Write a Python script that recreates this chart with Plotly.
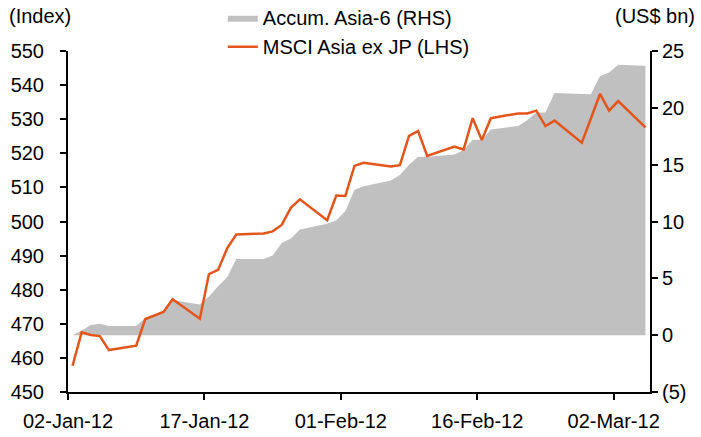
import pandas as pd
import plotly.graph_objects as go

# business days shown in the chart
dates = ["2012-01-02", "2012-01-03", "2012-01-04", "2012-01-05", "2012-01-06",
         "2012-01-09", "2012-01-10", "2012-01-11", "2012-01-12", "2012-01-13",
         "2012-01-16", "2012-01-17", "2012-01-18", "2012-01-19", "2012-01-20",
         "2012-01-23", "2012-01-24", "2012-01-25", "2012-01-26", "2012-01-27",
         "2012-01-30", "2012-01-31", "2012-02-01", "2012-02-02", "2012-02-03",
         "2012-02-06", "2012-02-07", "2012-02-08", "2012-02-09", "2012-02-10",
         "2012-02-13", "2012-02-14", "2012-02-15", "2012-02-16", "2012-02-17",
         "2012-02-20", "2012-02-21", "2012-02-22", "2012-02-23", "2012-02-24",
         "2012-02-27", "2012-02-28", "2012-02-29", "2012-03-01", "2012-03-02",
         "2012-03-05"]

msci_asia_ex_jp = [457.7, 467.5, 466.7, 466.4, 462.3,
                   463.6, 471.4, 472.4, 473.5, 477.2,
                   471.5, 484.6, 485.8, 492.1, 496.2,
                   496.5, 497.1, 499.0, 504.0, 506.5,
                   500.4, 507.6, 507.5, 516.3, 517.2,
                   516.1, 516.5, 525.1, 526.5, 519.2,
                   522.0, 521.1, 530.3, 523.9, 530.3,
                   531.7, 531.7, 532.5, 528.0, 529.6,
                   523.1, 530.2, 537.4, 532.5, 535.3,
                   527.6]

accum_asia6 = [0.0, 0.4, 0.9, 1.0, 0.8,
               0.8, 1.5, 1.8, 2.1, 3.1,
               2.7, 3.4, 4.3, 5.1, 6.7,
               6.7, 7.0, 8.1, 8.5, 9.3,
               9.8, 10.1, 10.9, 12.8, 13.1,
               13.6, 14.1, 15.0, 15.7, 15.7,
               15.9, 16.3, 17.2, 17.2, 18.1,
               18.4, 18.9, 19.6, 19.6, 21.3,
               21.2, 21.2, 22.8, 23.1, 23.8,
               23.7]

rhs_ticks = [-5, 0, 5, 10, 15, 20, 25]
rhs_labels = ["(5)", "0", "5", "10", "15", "20", "25"]

# points sit in the middle of each day (Excel "between tick marks")
x = pd.to_datetime(dates) + pd.Timedelta(hours=12)

font = dict(family="Liberation Sans, Arial, sans-serif", size=20, color="black")

fig = go.Figure()
fig.add_trace(go.Scatter(x=x, y=accum_asia6, name="Accum. Asia-6 (RHS)",
                         mode="lines", fill="tozeroy",
                         line=dict(color="#C0C0C0", width=0),
                         fillcolor="#C0C0C0", yaxis="y"))
fig.add_trace(go.Scatter(x=x, y=msci_asia_ex_jp, name="MSCI Asia ex JP (LHS)",
                         mode="lines", line=dict(color="#E2561B", width=2.5),
                         yaxis="y2"))

axis_common = dict(showgrid=False, zeroline=False, showline=True,
                   linecolor="black", linewidth=2, ticks="outside",
                   ticklen=6, tickwidth=2, tickcolor="black", tickfont=font,
                   automargin=False)

fig.update_layout(
    width=701, height=437,
    margin=dict(l=68, r=51, t=51, b=45, autoexpand=False),
    paper_bgcolor="white", plot_bgcolor="white",
    font=font,
    showlegend=True,
    legend=dict(x=0.266, y=1.155, xanchor="left", yanchor="top",
                bgcolor="rgba(0,0,0,0)", font=font, tracegroupgap=0),
    xaxis=dict(axis_common, type="date",
               range=["2012-01-02", "2012-03-06"],
               tick0="2012-01-02", dtick=15 * 86400000,
               tickformat="%d-%b-%y", ticklabelstandoff=4),
    yaxis=dict(axis_common, side="right", range=[-5, 25],
               tickvals=rhs_ticks, ticktext=rhs_labels),
    yaxis2=dict(axis_common, side="left", overlaying="y",
                range=[450, 550], dtick=10, ticklabelstandoff=12),
    annotations=[
        dict(text="(Index)", xref="paper", yref="paper", x=-0.105, y=1.065,
             xanchor="left", yanchor="bottom", showarrow=False, font=font),
        dict(text="(US$ bn)", xref="paper", yref="paper", x=1.08, y=1.065,
             xanchor="right", yanchor="bottom", showarrow=False, font=font),
    ],
)

# drop the browser's default body margin so the 701x437 figure fills the window
fig.write_html("out.html", config={"displayModeBar": False},
               post_script="document.body.style.margin='0';")
